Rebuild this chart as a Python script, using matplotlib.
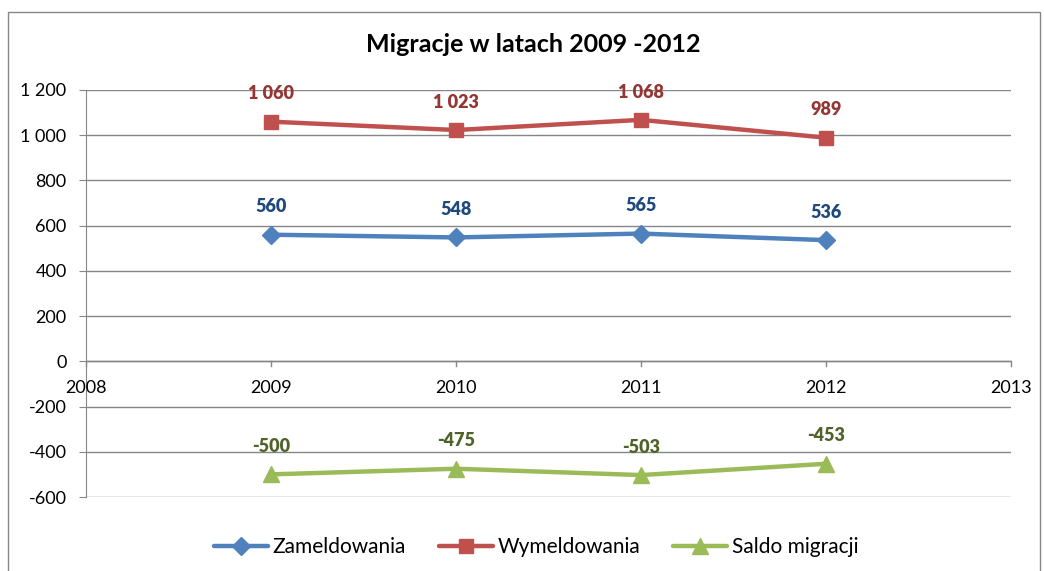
import matplotlib.pyplot as plt
from matplotlib.patches import Rectangle
from matplotlib.ticker import FuncFormatter

lata = [2009, 2010, 2011, 2012]
zameldowania = [560, 548, 565, 536]
wymeldowania = [1060, 1023, 1068, 989]
saldo = [-500, -475, -503, -453]

serie = [
    ("Zameldowania", zameldowania, "#4F81BD", "#1F497D", "D", 9),
    ("Wymeldowania", wymeldowania, "#C0504D", "#943634", "s", 10),
    ("Saldo migracji", saldo, "#9BBB59", "#4F6228", "^", 11),
]

plt.rcParams['font.family'] = ['Lato', 'DejaVu Sans']

fig = plt.figure(figsize=(10.44, 5.71), dpi=100)
ax = fig.add_axes([86 / 1044, 1 - 497 / 571, 925 / 1044, 407 / 571])

# ramka wokol wykresu
fig.patches.append(Rectangle((8 / 1044, -0.05), 1032 / 1044, 1.05 - 12 / 571,
                             transform=fig.transFigure, fill=False,
                             edgecolor="#868686", linewidth=1))


def fmt(v):
    return f"{int(v):,}".replace(",", " ")


for nazwa, wart, kolor, kolor_et, marker, ms in serie:
    ax.plot(lata, wart, color=kolor, linewidth=3.2, marker=marker,
            markersize=ms, label=nazwa, solid_capstyle="round")
    for x, y in zip(lata, wart):
        ax.annotate(fmt(y), (x, y), xytext=(0, 20), textcoords="offset points",
                    ha="center", va="center", fontsize=13, fontweight="heavy",
                    color=kolor_et)

ax.set_xlim(2008, 2013)
ax.set_ylim(-600, 1200)
ax.set_yticks(range(-600, 1201, 200))
ax.yaxis.set_major_formatter(FuncFormatter(lambda v, p: fmt(v)))
ax.set_xticks(range(2008, 2014))
ax.grid(axis="y", color="#868686", linewidth=1)
ax.set_axisbelow(True)

for s in ["top", "right", "bottom"]:
    ax.spines[s].set_visible(False)
ax.spines["left"].set_color("#868686")
ax.axhline(0, color="#868686", linewidth=1, zorder=1)
for x in range(2008, 2014):
    ax.plot([x, x], [0, -22], color="#868686", linewidth=1, clip_on=False, zorder=1)
    ax.annotate(str(x), (x, 0), xytext=(0, -19), textcoords="offset points",
                ha="center", va="center", fontsize=13)
ax.tick_params(axis="x", length=0, labelbottom=False)
ax.tick_params(axis="y", length=5, color="#868686", labelsize=13, pad=9)

fig.text(533 / 1044, 1 - 45 / 571, "Migracje w latach 2009 -2012",
         ha="center", va="center", fontsize=18, fontweight="bold")

fig.legend(loc="center", bbox_to_anchor=(536 / 1044, 1 - 547 / 571), ncol=3,
           frameon=False, fontsize=15, handlelength=2.6, columnspacing=1.6,
           handletextpad=0.2)

fig.savefig("out.png", dpi=100)
